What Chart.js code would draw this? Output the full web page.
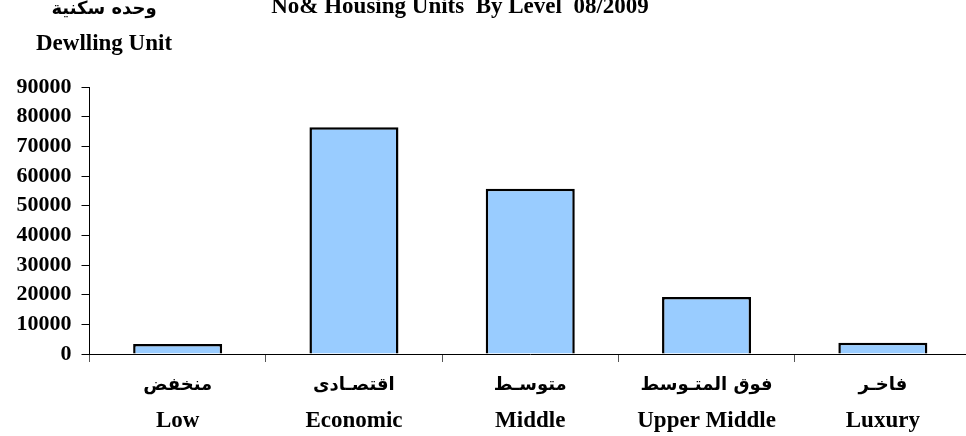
<!DOCTYPE html>
<html>
<head>
<meta charset="utf-8">
<script src="https://cdn.jsdelivr.net/npm/chart.js@4"></script>
<style>
  html, body { margin: 0; padding: 0; background: #fff; overflow: hidden; }
  #wrap { position: relative; width: 972px; height: 436px; }
</style>
</head>
<body>
<div id="wrap"><canvas id="units"></canvas></div>
<script>
// Housing units by level, 08/2009
const labelsAr = ["منخفض", "اقتصـادى", "متوسـط", "فوق المتـوسط", "فاخـر"];
const labelsEn = ["Low", "Economic", "Middle", "Upper Middle", "Luxury"];
const units = [3400, 76400, 55700, 19200, 3800];
const yTicks = [0, 10000, 20000, 30000, 40000, 50000, 60000, 70000, 80000, 90000];

const titleText = "No& Housing Units  By Level  08/2009";
const yCaptionAr = "وحده سكنية";
const yCaptionEn = "Dewlling Unit";

const FONT = "'Liberation Serif', 'Times New Roman', serif";
const FONT_AR = "'DejaVu Sans', sans-serif";

// title, y caption and the two-script category labels (arabic is smaller than latin, so
// the labels are drawn here instead of by the tick renderer which only takes one font)
const captionPlugin = {
  id: 'captions',
  afterDraw(chart) {
    const ctx = chart.ctx;
    const x = chart.scales.x;
    ctx.save();
    ctx.fillStyle = '#000';
    ctx.textAlign = 'center';
    ctx.textBaseline = 'alphabetic';
    ctx.font = "bold 23px " + FONT;
    ctx.fillText(titleText, 460, 13);
    ctx.font = "bold 18px " + FONT_AR;
    ctx.textBaseline = 'middle';
    ctx.fillText(yCaptionAr, 104, 9);
    ctx.textBaseline = 'alphabetic';
    ctx.font = "bold 23px " + FONT;
    ctx.fillText(yCaptionEn, 104, 50);

    chart.data.labels.forEach((lab, i) => {
      const px = x.getPixelForValue(i);
      ctx.font = "bold 18px " + FONT_AR;
      ctx.textBaseline = 'middle';
      ctx.fillText(labelsAr[i], px, 385);
      ctx.font = "bold 23px " + FONT;
      ctx.textBaseline = 'alphabetic';
      ctx.fillText(lab, px, 427);
    });
    ctx.restore();
  }
};

new Chart(document.getElementById('units'), {
  type: 'bar',
  data: {
    labels: labelsEn,
    datasets: [{
      data: units,
      backgroundColor: '#99CCFF',
      borderColor: '#000',
      borderWidth: 2.5,
      categoryPercentage: 1,
      barPercentage: 0.505
    }]
  },
  options: {
    responsive: true,
    maintainAspectRatio: false,
    animation: false,
    layout: { padding: { top: 87, right: 1, left: 0, bottom: 0 } },
    plugins: {
      legend: { display: false },
      tooltip: { enabled: false }
    },
    scales: {
      x: {
        grid: { display: true, drawOnChartArea: false, drawTicks: true, tickLength: 8, color: '#555', offset: true },
        border: { display: true, color: '#000', width: 1 },
        ticks: { maxRotation: 0, autoSkip: false, callback: () => '' },
        afterFit(scale) { scale.height = 82; }
      },
      y: {
        min: 0,
        max: 90000,
        afterBuildTicks(scale) { scale.ticks = yTicks.map(v => ({ value: v })); },
        grid: { display: true, drawOnChartArea: false, drawTicks: true, tickLength: 8, color: '#000' },
        border: { display: true, color: '#000', width: 1 },
        ticks: {
          color: '#000',
          font: { family: FONT, size: 22, weight: 'bold' },
          padding: 10,
          callback: (v) => String(v)
        },
        afterFit(scale) { scale.width = 89.5; }
      }
    }
  },
  plugins: [captionPlugin]
});
</script>
</body>
</html>
